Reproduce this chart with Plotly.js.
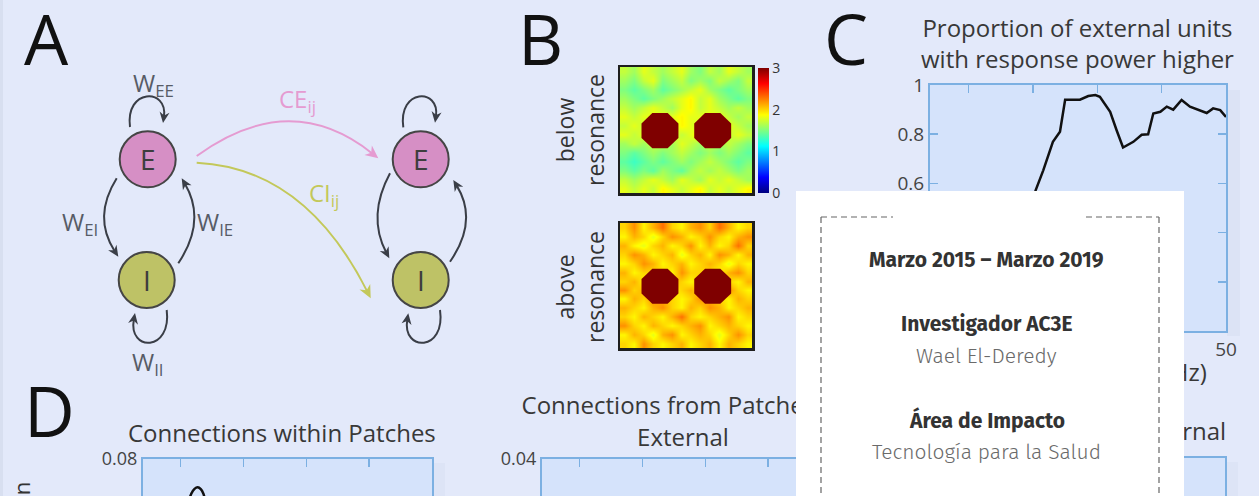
<!DOCTYPE html>
<html><head><meta charset="utf-8">
<script src="https://cdn.plot.ly/plotly-3.0.1.min.js"></script>
<style>html,body{margin:0;padding:0;background:#e3e9fa;}#chart{width:1259px;height:496px;}</style>
</head><body><div id="chart"></div>
<script>
// ---------------- DATA ----------------
// Panel C: proportion of external units with higher response power vs driving frequency
const freqC = [4,5,6,7,8,9,10,11,12,13,14,15,16,17,18,19,20,20.4,21.6,23.1,24.2,25.0,26.0,27.3,28.6,29.7,30.4,32.0,33.0,34.0,35.6,36.9,37.9,38.7,39.8,40.8,41.8,43.1,44.4,45.7,47.0,48.0,49.1,50];
const propC = [0.35,0.38,0.42,0.45,0.48,0.50,0.52,0.54,0.55,0.56,0.54,0.50,0.46,0.44,0.45,0.48,0.53,0.571,0.653,0.769,0.81,0.94,0.94,0.94,0.955,0.959,0.952,0.891,0.816,0.746,0.769,0.798,0.80,0.884,0.891,0.912,0.90,0.939,0.912,0.90,0.886,0.905,0.898,0.87];
const xTicksC = [10,20,30,40,50];
const yTicksC = [0,0.2,0.4,0.6,0.8,1];
// Panel D1 (only the top of the curve is visible)
const freqD1 = [4,6,8,10,11,11.7,12.2,12.7,13.2,13.6,14,15,17,20,25,30,35,40,45,50];
const valD1 = [0.02,0.026,0.034,0.05,0.064,0.0688,0.0703,0.0708,0.0702,0.0688,0.066,0.061,0.055,0.048,0.041,0.036,0.032,0.03,0.028,0.026];
const xTicksD = [10,20,30,40];
// Panel B heatmaps (rows top to bottom)
const belowZ = [
 [1.7,1.6,1.8,1.7,1.6,1.7,1.8,1.6,1.5,1.7,1.6,1.8,1.7,1.6],
 [1.6,1.5,1.7,1.8,1.5,1.6,1.7,1.5,1.6,1.5,1.7,1.6,1.5,1.7],
 [1.5,1.4,1.5,1.6,1.4,1.5,1.6,1.7,1.8,1.6,1.5,1.4,1.5,1.6],
 [1.6,1.5,1.4,1.5,1.6,1.7,1.8,1.9,1.7,1.8,1.6,1.5,1.4,1.5],
 [1.7,1.6,1.7,1.8,1.7,1.6,1.8,1.9,1.7,1.8,1.7,1.6,1.7,1.6],
 [1.8,1.7,1.8,1.8,1.8,1.8,1.9,1.8,1.8,1.8,1.8,1.7,1.6,1.7],
 [1.7,1.8,1.7,1.8,1.8,1.7,1.9,1.8,1.7,1.8,1.8,1.8,1.7,1.6],
 [1.8,1.7,1.8,1.7,1.8,1.8,1.7,1.8,1.9,1.7,1.8,1.7,1.8,1.7],
 [1.6,1.7,1.6,1.7,1.7,1.6,1.8,1.7,1.6,1.7,1.6,1.7,1.6,1.5],
 [1.5,1.4,1.5,1.6,1.5,1.6,1.7,1.6,1.5,1.6,1.5,1.6,1.5,1.4],
 [1.4,1.3,1.4,1.5,1.4,1.5,1.6,1.5,1.6,1.7,1.6,1.5,1.4,1.5],
 [1.5,1.4,1.5,1.4,1.6,1.5,1.4,1.6,1.7,1.6,1.7,1.6,1.5,1.6],
 [1.7,1.6,1.7,1.8,1.7,1.6,1.8,1.7,1.6,1.8,1.7,1.8,1.7,1.6],
 [1.8,1.7,1.8,1.7,1.9,1.8,1.7,1.8,1.9,1.7,1.8,1.7,1.8,1.9]];
const aboveZ = [
 [2.0,2.2,1.9,2.1,2.3,2.0,1.9,2.1,2.2,2.0,2.3,2.1,1.9,2.0],
 [1.9,2.1,2.0,1.8,2.0,2.2,2.1,1.9,2.0,2.2,2.0,1.9,2.1,2.2],
 [2.1,1.9,1.8,2.0,2.1,1.9,2.0,2.2,1.9,2.1,1.9,2.0,2.3,2.0],
 [2.0,2.2,2.1,1.9,2.0,2.1,1.8,2.0,2.1,1.9,2.2,2.1,1.9,2.1],
 [1.9,2.0,2.2,2.1,1.9,2.0,2.1,1.9,2.0,2.1,2.0,1.8,2.0,1.9],
 [2.1,1.9,2.0,2.0,2.0,1.9,2.2,2.0,2.0,2.0,1.9,2.1,2.2,2.0],
 [2.0,2.1,1.9,2.0,2.0,2.1,2.0,1.9,2.0,2.0,2.1,2.0,1.9,2.1],
 [2.2,2.0,2.1,2.0,2.0,1.9,2.0,2.1,2.0,2.0,2.0,2.2,2.0,1.9],
 [1.9,2.1,2.0,2.2,2.1,2.0,1.9,2.0,2.2,2.1,2.0,1.9,2.1,2.0],
 [2.1,2.0,1.9,2.1,2.2,2.0,1.9,2.1,2.0,2.2,2.1,1.9,2.0,2.1],
 [2.0,1.9,2.1,2.0,1.9,2.1,2.3,2.0,1.9,2.0,2.1,2.2,1.9,2.0],
 [2.2,2.0,1.9,2.1,2.0,1.9,2.0,2.1,2.2,1.9,2.0,2.1,2.0,1.9],
 [1.9,2.1,2.0,1.8,2.1,2.2,1.9,2.0,2.1,2.0,1.8,2.0,2.2,2.0],
 [2.0,1.9,2.2,2.0,1.9,2.0,2.1,1.9,2.0,2.1,1.9,2.1,2.0,1.9]];
const patchCx = [3.74, 9.33];
const patchCy = [6.58, 6.58];
const patchR = 2.12;
const cbTicks = [0,1,2,3];

// ---------------- HELPERS ----------------
const W = 1259, H = 496;
const X = p => p / W, Y = p => 1 - p / H;
const FONT = 'Open Sans, Noto Sans, sans-serif';
const CARD = 'Fira Sans, Open Sans, sans-serif';
const DARK = '#3a3e47';
const BLUE = '#7cb0e2';

const shapes = [];
function rectPx(x0,y0,x1,y1,fill,layer){shapes.push({type:'rect',xref:'paper',yref:'paper',x0:X(x0),x1:X(x1),y0:Y(y0),y1:Y(y1),fillcolor:fill,line:{width:0},layer:layer||'below'});}
function linePx(x0,y0,x1,y1,color,dash){shapes.push({type:'line',xref:'paper',yref:'paper',x0:X(x0),x1:X(x1),y0:Y(y0),y1:Y(y1),line:{color:color,width:1.2,dash:dash},layer:'above'});}
function arrowHead(tip, from, color, len, hw){
  const dx=tip[0]-from[0], dy=tip[1]-from[1], d=Math.hypot(dx,dy), ux=dx/d, uy=dy/d, nx=-uy, ny=ux;
  const bx=tip[0]-ux*len, by=tip[1]-uy*len;
  const p1=[bx+nx*hw,by+ny*hw], p2=[tip[0]-ux*len*0.7,tip[1]-uy*len*0.7], p3=[bx-nx*hw,by-ny*hw];
  shapes.push({type:'path',xref:'x9',yref:'y9',layer:'above',path:`M${tip[0]},${tip[1]} L${p1[0]},${p1[1]} L${p2[0]},${p2[1]} L${p3[0]},${p3[1]} Z`,fillcolor:color,line:{width:0}});
  return [tip[0]-ux*len*0.6, tip[1]-uy*len*0.6];
}
function curve(pts, color, len, hw){
  len=len||11; hw=hw||5;
  const n=pts.length, tip=pts[n-1], ctl=pts[n-2];
  const end = arrowHead(tip, ctl, color, len, hw);
  let path;
  if(n===3) path=`M${pts[0][0]},${pts[0][1]} Q${pts[1][0]},${pts[1][1]} ${end[0]},${end[1]}`;
  else path=`M${pts[0][0]},${pts[0][1]} C${pts[1][0]},${pts[1][1]} ${pts[2][0]},${pts[2][1]} ${end[0]},${end[1]}`;
  shapes.unshift({type:'path',xref:'x9',yref:'y9',layer:'above',path:path,line:{color:color,width:2},fillcolor:'rgba(0,0,0,0)'});
}
function circle(cx,cy,r,fill){shapes.push({type:'circle',xref:'x9',yref:'y9',layer:'above',x0:cx-r,x1:cx+r,y0:cy-r,y1:cy+r,fillcolor:fill,line:{color:'#454545',width:2}});}
function octagon(cx,cy,r,xr,yr){
  let p='';
  for(let k=0;k<8;k++){const a=(22.5+45*k)*Math.PI/180; p+=(k?' L':'M')+(cx+r*Math.cos(a))+','+(cy+r*Math.sin(a));}
  shapes.push({type:'path',xref:xr,yref:yr,layer:'above',path:p+' Z',fillcolor:'#7f0000',line:{width:0}});
}
const ann = (x,y,text,font,extra) => Object.assign({xref:'paper',yref:'paper',x:X(x),y:Y(y),text:text,showarrow:false,xanchor:'center',yanchor:'middle',font:font},extra||{});

// ---------------- BACKGROUND SHAPES ----------------
rectPx(0,0,3,496,'#d8dff0');
rectPx(930,85,1226,331,'#d5e3fb');
rectPx(1227,90,1240,336,'rgba(120,130,175,0.06)');
rectPx(143,459,432,500,'#d5e3fb');
rectPx(433,463,445,500,'rgba(120,130,175,0.05)');
rectPx(542,459,831,500,'#d5e3fb');
rectPx(936,458,1225,500,'#d5e3fb');
rectPx(1226,462,1238,500,'rgba(120,130,175,0.05)');

// ---------------- PANEL A DIAGRAM ----------------
const PINK='#e59bd1', OLIVE='#c3c85a';
curve([[130,127],[125,88],[168,88],[163,123]], DARK);
curve([[166.7,310],[172,352],[128,352],[135,313]], DARK);
curve([[116.7,178.3],[92.5,217],[118.3,256.7]], DARK);
curve([[178.3,263.3],[206.6,220.8],[181.7,178.3]], DARK);
curve([[403.3,127.3],[398,88],[440,88],[435,122.7]], DARK);
curve([[440,310],[446,352],[402,352],[408.3,313.3]], DARK);
curve([[390,173.3],[367,216],[389.3,258.3]], DARK);
curve([[450,261.7],[478.4,221],[453.3,180]], DARK);
curve([[196.7,156],[290,88],[378.3,158.3]], PINK, 13, 6);
curve([[196.7,162.7],[305,168],[370.7,298.3]], OLIVE, 13, 6);
circle(147.7,159.3,28,'#d68fc5');
circle(146.7,280,28,'#bec266');
circle(420.7,159.3,28,'#d68fc5');
circle(420.7,280,28,'#bec266');

// ---------------- PANEL B OCTAGONS ----------------
for(let i=0;i<patchCx.length;i++){octagon(patchCx[i],patchCy[i],patchR,'x2','y2');octagon(patchCx[i],patchCy[i],patchR,'x3','y3');}

// ---------------- CARD ----------------
rectPx(796,191,1184,520,'#ffffff','above');
linePx(821,217,893,217,'#666','6px,4px');
linePx(1086,217,1159,217,'#666','6px,4px');
linePx(821,217,821,510,'#666','6px,4px');
linePx(1159,217,1159,510,'#666','6px,4px');

// ---------------- TRACES ----------------
const jet=[[0,'#00007f'],[0.125,'#0000ff'],[0.375,'#00ffff'],[0.625,'#ffff00'],[0.875,'#ff0000'],[1,'#7f0000']];
const titleFont={family:FONT,size:24,color:'#383838'};
const traces = [
 {type:'scatter',mode:'lines',x:freqC,y:propC,xaxis:'x',yaxis:'y',line:{color:'#111',width:2.5},hoverinfo:'skip'},
 {type:'heatmap',z:belowZ,xaxis:'x2',yaxis:'y2',colorscale:jet,zmin:0,zmax:3,zsmooth:'best',hoverinfo:'skip',
  colorbar:{x:X(758),xanchor:'left',y:Y(130.5),yanchor:'middle',len:125,lenmode:'pixels',thickness:11,thicknessmode:'pixels',tickvals:cbTicks,ticks:'',outlinewidth:0,xpad:0,ypad:0,tickfont:{family:FONT,size:14,color:'#333'}}},
 {type:'heatmap',z:aboveZ,xaxis:'x3',yaxis:'y3',colorscale:jet,zmin:0,zmax:3,zsmooth:'best',showscale:false,hoverinfo:'skip'},
 {type:'scatter',mode:'lines',x:freqD1,y:valD1,xaxis:'x4',yaxis:'y4',line:{color:'#111',width:2.5,shape:'spline'},hoverinfo:'skip'},
 {type:'scatter',mode:'lines',x:[],y:[],xaxis:'x5',yaxis:'y5',hoverinfo:'skip'},
 {type:'scatter',mode:'lines',x:[],y:[],xaxis:'x6',yaxis:'y6',hoverinfo:'skip'},
 {type:'scatter',mode:'text',x:[1081],y:[375],text:['Driving Frequency (Hz)'],textfont:titleFont,xaxis:'x9',yaxis:'y9',cliponaxis:false,hoverinfo:'skip'},
 {type:'scatter',mode:'text',x:[683],y:[424],text:['Connections from Patches to<br>External'],textfont:titleFont,xaxis:'x9',yaxis:'y9',cliponaxis:false,hoverinfo:'skip'},
 {type:'scatter',mode:'text',x:[1070],y:[434],text:['Connections within External'],textfont:titleFont,xaxis:'x9',yaxis:'y9',cliponaxis:false,hoverinfo:'skip'}
];

// ---------------- LAYOUT ----------------
const blueAx = {showline:true,linecolor:BLUE,linewidth:2,ticks:'inside',ticklen:8,tickwidth:1.5,tickcolor:BLUE,showgrid:false,zeroline:false,fixedrange:true,tickfont:{family:FONT,size:19,color:'#444'}};
const frameAx = {showline:true,linecolor:'#1e1e1e',linewidth:2.5,mirror:true,ticks:'',showticklabels:false,showgrid:false,zeroline:false,fixedrange:true};
const bigFont={family:FONT,size:70,color:'#111'};
const wFont={family:FONT,size:24,color:'#575c66'};
const nodeFont={family:FONT,size:28,color:'#3d3d3d'};
const boldCard={family:CARD,size:21,weight:700,color:'#333'};
const lightCard={family:CARD,size:21,weight:300,color:'#6a6a6a'};
const dTick={family:FONT,size:18,color:'#444'};

const layout = {
 width:W,height:H,margin:{l:0,r:0,t:0,b:0},paper_bgcolor:'#e3e9fa',plot_bgcolor:'rgba(0,0,0,0)',showlegend:false,font:{family:FONT},
 xaxis:Object.assign({},blueAx,{domain:[X(930),X(1226)],range:[4,50],tickvals:xTicksC,mirror:'ticks',anchor:'y'}),
 yaxis:Object.assign({},blueAx,{domain:[Y(331),Y(85)],range:[0,1],tickvals:yTicksC,mirror:'ticks',anchor:'x'}),
 xaxis2:Object.assign({},frameAx,{domain:[X(620),X(752)],range:[-0.5,13.5],anchor:'y2'}),
 yaxis2:Object.assign({},frameAx,{domain:[Y(193),Y(67)],range:[13.5,-0.5],anchor:'x2'}),
 xaxis3:Object.assign({},frameAx,{domain:[X(620),X(752)],range:[-0.5,13.5],anchor:'y3'}),
 yaxis3:Object.assign({},frameAx,{domain:[Y(348),Y(223)],range:[13.5,-0.5],anchor:'x3'}),
 xaxis4:Object.assign({},blueAx,{domain:[X(143),X(432)],range:[4,50],side:'top',tickvals:xTicksD,showticklabels:false,anchor:'y4'}),
 yaxis4:Object.assign({},blueAx,{domain:[0,Y(459)],range:[0.068,0.08],tickvals:[0.08],ticktext:['0.08'],mirror:'ticks',anchor:'x4',tickfont:dTick}),
 xaxis5:Object.assign({},blueAx,{domain:[X(542),X(831)],range:[4,50],side:'top',tickvals:xTicksD,showticklabels:false,anchor:'y5'}),
 yaxis5:Object.assign({},blueAx,{domain:[0,Y(459)],range:[0.034,0.04],tickvals:[0.04],ticktext:['0.04'],mirror:'ticks',anchor:'x5',tickfont:dTick}),
 xaxis6:Object.assign({},blueAx,{domain:[X(936),X(1225)],range:[4,50],side:'top',tickvals:xTicksD,showticklabels:false,anchor:'y6'}),
 yaxis6:Object.assign({},blueAx,{domain:[0,Y(458)],range:[0.034,0.04],tickvals:[0.04],ticktext:['0.04'],mirror:'ticks',anchor:'x6',tickfont:dTick}),
 xaxis9:{domain:[0,1],range:[0,W],visible:false,fixedrange:true,anchor:'y9'},
 yaxis9:{domain:[0,1],range:[H,0],visible:false,fixedrange:true,anchor:'x9'},
 shapes:shapes,
 annotations:[
  ann(46,38,'A',bigFont), ann(540,38,'B',bigFont), ann(846,38,'C',bigFont), ann(49,410,'D',bigFont),
  ann(153,84,'W<sub>EE</sub>',wFont), ann(80,223,'W<sub>EI</sub>',wFont), ann(215,223,'W<sub>IE</sub>',wFont), ann(148,363,'W<sub>II</sub>',wFont),
  ann(297,100,'CE<sub>ij</sub>',{family:FONT,size:24,color:PINK}), ann(324,194,'CI<sub>ij</sub>',{family:FONT,size:24,color:OLIVE}),
  ann(147.7,159.3,'E',nodeFont), ann(146.7,280,'I',nodeFont), ann(420.7,159.3,'E',nodeFont), ann(420.7,280,'I',nodeFont),
  ann(580,130,'below<br>resonance',{family:FONT,size:23,color:'#333'},{textangle:-90}),
  ann(580,287,'above<br>resonance',{family:FONT,size:23,color:'#333'},{textangle:-90}),
  ann(1077,43,'Proportion of external units<br>with response power higher',titleFont),
  ann(282,432,'Connections within Patches',titleFont),
  ann(21,538,'Proportion',{family:FONT,size:22,color:'#333'},{textangle:-90}),
  ann(987,260,'Marzo 2015 – Marzo 2019',boldCard),
  ann(987,324,'Investigador AC3E',boldCard),
  ann(987,356,'Wael El-Deredy',lightCard),
  ann(987,420,'Área de Impacto',boldCard),
  ann(987,452,'Tecnología para la Salud',lightCard)
 ]
};
Plotly.newPlot('chart',traces,layout,{displayModeBar:false,staticPlot:true});
</script></body></html>
